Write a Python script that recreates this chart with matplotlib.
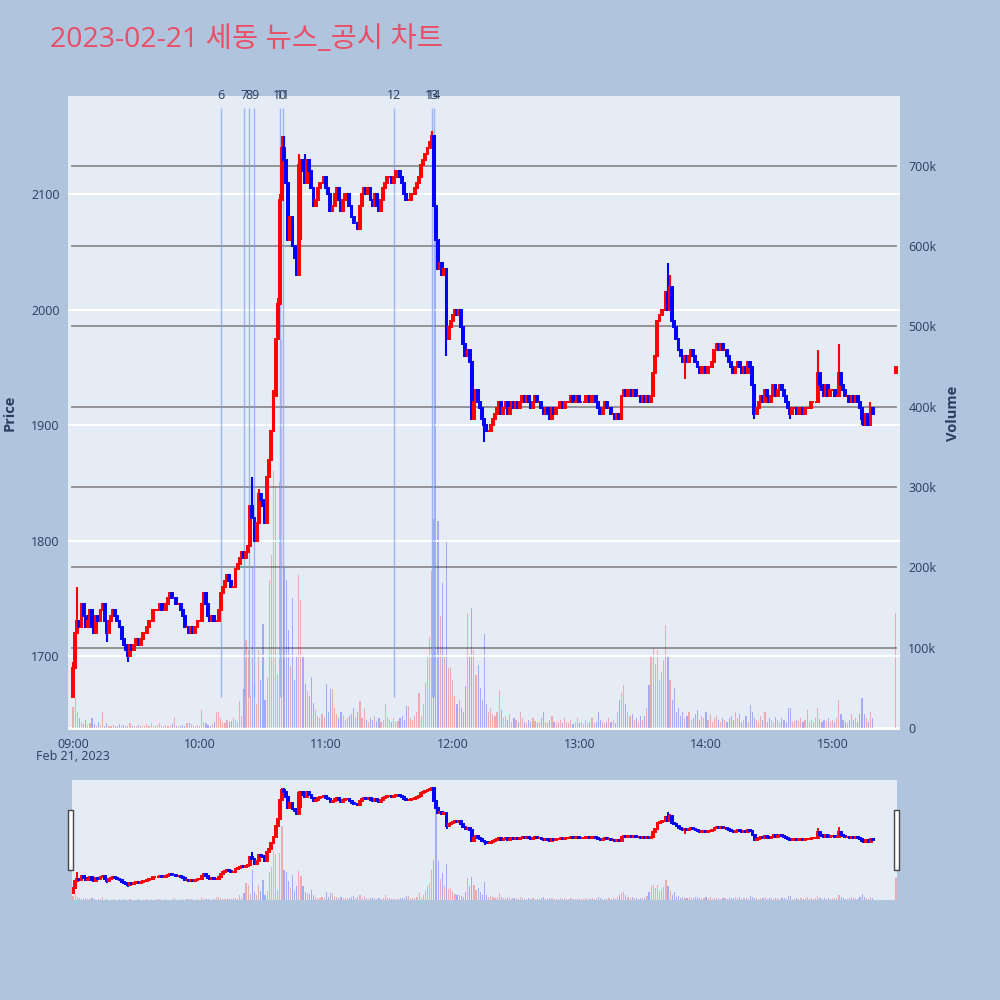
import numpy as np
import matplotlib
matplotlib.use("Agg")
import matplotlib.pyplot as plt
from matplotlib.patches import Rectangle

plt.rcParams['font.family'] = ['Open Sans', 'Noto Sans CJK KR', 'DejaVu Sans']

# 1분봉 종가 (09:00 ~ 15:19)
closes = [
    1690, 1720, 1730, 1725, 1745, 1735, 1725, 1730, 1740, 1725,
    1720, 1735, 1730, 1740, 1745, 1730, 1720, 1730, 1735, 1740,
    1735, 1730, 1725, 1715, 1710, 1705, 1700, 1710, 1705, 1710,
    1715, 1710, 1715, 1720, 1720, 1725, 1730, 1730, 1740, 1740,
    1740, 1745, 1740, 1740, 1745, 1750, 1755, 1750, 1750, 1745,
    1745, 1740, 1735, 1725, 1725, 1720, 1725, 1720, 1725, 1730,
    1730, 1745, 1755, 1745, 1735, 1730, 1735, 1730, 1730, 1740,
    1755, 1760, 1765, 1770, 1765, 1760, 1760, 1775, 1780, 1785,
    1790, 1785, 1790, 1795, 1830, 1820, 1800, 1815, 1840, 1835,
    1830, 1815, 1855, 1870, 1895, 1925, 1975, 2005, 2095, 2140,
    2130, 2110, 2060, 2080, 2055, 2045, 2030, 2125, 2130, 2120,
    2110, 2130, 2120, 2105, 2090, 2095, 2105, 2110, 2110, 2115,
    2105, 2100, 2085, 2090, 2100, 2105, 2095, 2085, 2095, 2100,
    2100, 2090, 2080, 2075, 2075, 2070, 2090, 2100, 2105, 2100,
    2105, 2095, 2090, 2100, 2090, 2085, 2095, 2105, 2110, 2115,
    2115, 2110, 2115, 2120, 2120, 2115, 2110, 2100, 2095, 2095,
    2100, 2100, 2105, 2110, 2115, 2125, 2130, 2135, 2140, 2145,
    2150, 2090, 2060, 2035, 2040, 2030, 2035, 1975, 1985, 1990,
    1995, 2000, 1995, 2000, 1985, 1970, 1960, 1965, 1955, 1905,
    1920, 1930, 1920, 1915, 1905, 1900, 1895, 1895, 1900, 1905,
    1910, 1915, 1920, 1910, 1915, 1920, 1910, 1915, 1920, 1915,
    1920, 1915, 1920, 1925, 1920, 1925, 1920, 1915, 1920, 1925,
    1920, 1920, 1915, 1910, 1915, 1910, 1905, 1915, 1910, 1915,
    1915, 1920, 1915, 1920, 1920, 1920, 1925, 1920, 1920, 1925,
    1920, 1920, 1920, 1925, 1925, 1920, 1925, 1925, 1920, 1915,
    1910, 1915, 1920, 1915, 1915, 1910, 1910, 1905, 1910, 1905,
    1925, 1930, 1925, 1930, 1930, 1925, 1930, 1925, 1925, 1920,
    1925, 1920, 1925, 1920, 1925, 1945, 1960, 1990, 1995, 2000,
    2000, 2015, 2000, 2020, 1990, 1985, 1975, 1965, 1960, 1955,
    1960, 1955, 1960, 1965, 1960, 1955, 1950, 1945, 1950, 1950,
    1945, 1950, 1950, 1955, 1965, 1970, 1965, 1970, 1965, 1965,
    1960, 1955, 1950, 1945, 1950, 1955, 1950, 1945, 1950, 1945,
    1955, 1950, 1935, 1910, 1915, 1920, 1925, 1920, 1930, 1925,
    1920, 1925, 1935, 1925, 1930, 1935, 1930, 1925, 1920, 1915,
    1910, 1915, 1915, 1910, 1915, 1915, 1910, 1915, 1915, 1915,
    1920, 1920, 1920, 1945, 1935, 1930, 1925, 1935, 1925, 1930,
    1930, 1925, 1925, 1945, 1935, 1930, 1925, 1925, 1920, 1925,
    1920, 1925, 1920, 1915, 1905, 1900, 1910, 1900, 1915, 1910,
]
first_open = 1665

# 꼬리 (분: 가격)
wick_high = {0: 1695, 2: 1760, 85: 1855, 88: 1845, 95: 1930, 97: 2010, 98: 2100,
             99: 2150, 100: 2150, 107: 2135, 110: 2135, 170: 2155, 282: 2040,
             283: 2030, 353: 1965, 363: 1970, 378: 1920}
wick_low = {16: 1712, 26: 1695, 106: 2030, 108: 2060, 177: 1960, 189: 1905,
            195: 1885, 290: 1940, 323: 1905, 340: 1905, 374: 1900, 377: 1900}

# 거래량 (천주)
volumes = [
    26, 37, 20, 12, 8, 5, 10, 4, 6, 12,
    5, 3, 8, 4, 20, 3, 6, 2, 3, 4,
    2, 3, 5, 2, 4, 3, 2, 6, 2, 3,
    2, 4, 2, 3, 2, 5, 3, 6, 2, 3,
    4, 6, 3, 2, 4, 3, 2, 5, 14, 3,
    2, 3, 4, 2, 6, 6, 5, 3, 2, 4,
    3, 22, 8, 6, 4, 3, 5, 8, 20, 20,
    12, 8, 6, 10, 8, 9, 12, 10, 8, 33,
    15, 48, 110, 97, 40, 200, 55, 30, 97, 60,
    130, 35, 62, 184, 216, 320, 300, 67, 306, 483,
    200, 184, 122, 77, 162, 60, 90, 190, 159, 90,
    55, 46, 40, 64, 31, 22, 15, 12, 18, 14,
    55, 20, 48, 48, 25, 18, 12, 20, 15, 10,
    12, 15, 18, 25, 14, 20, 34, 12, 25, 10,
    8, 12, 10, 15, 9, 12, 8, 10, 30, 14,
    10, 8, 12, 8, 9, 12, 15, 10, 28, 28,
    12, 10, 15, 20, 43, 15, 30, 56, 90, 113,
    195, 260, 630, 258, 140, 180, 90, 234, 75, 76,
    60, 40, 30, 35, 25, 20, 52, 143, 90, 150,
    97, 66, 78, 50, 35, 117, 30, 20, 25, 18,
    15, 20, 47, 22, 12, 15, 10, 18, 8, 12,
    10, 8, 20, 12, 8, 6, 10, 8, 12, 9,
    6, 8, 12, 20, 8, 6, 10, 15, 8, 6,
    8, 10, 6, 12, 8, 6, 10, 5, 8, 12,
    6, 8, 5, 10, 6, 8, 12, 6, 8, 20,
    10, 8, 6, 8, 12, 8, 10, 6, 20, 35,
    44, 54, 30, 20, 15, 18, 10, 12, 8, 15,
    10, 15, 25, 54, 91, 100, 80, 97, 60, 70,
    85, 128, 91, 60, 35, 50, 20, 25, 15, 20,
    12, 15, 20, 10, 12, 18, 22, 10, 15, 12,
    20, 10, 18, 8, 12, 15, 10, 8, 12, 10,
    8, 12, 15, 10, 20, 12, 18, 8, 10, 15,
    8, 29, 20, 12, 10, 8, 15, 10, 20, 8,
    12, 10, 8, 14, 10, 8, 12, 10, 8, 25,
    25, 7, 9, 10, 9, 12, 8, 10, 22, 8,
    10, 8, 12, 25, 11, 8, 10, 9, 12, 8,
    10, 8, 12, 35, 17, 10, 8, 6, 10, 17,
    10, 12, 8, 17, 37, 17, 12, 8, 20, 12,
]

# 15:30 동시호가
auction_min = 390
auction_open, auction_close, auction_vol = 1945, 1950, 143

# 뉴스/공시 번호와 시각(분)
news_ids = ['6', '7', '8', '9', '10', '11', '12', '13', '14']
news_min = [70, 81, 83.5, 86, 98, 99.5, 152, 170, 171]

hours = ['09:00', '10:00', '11:00', '12:00', '13:00', '14:00', '15:00']

# ---- 데이터 정리
mins = np.append(np.arange(len(closes)), auction_min)
c = np.array(closes + [auction_close], dtype=float)
o = np.concatenate([[first_open], closes[:-1], [auction_open]]).astype(float)
h = np.maximum(o, c)
l = np.minimum(o, c)
for k, v in wick_high.items():
    h[k] = max(h[k], v)
for k, v in wick_low.items():
    l[k] = min(l[k], v)
vol = np.array(volumes + [auction_vol], dtype=float) * 1000
up = c >= o
cols = np.where(up, '#ff0000', '#0000ff')

BG = '#b0c4de'
PLOT_BG = '#e5ecf6'
TXT = '#2a3f5f'

fig = plt.figure(figsize=(10, 10), dpi=100, facecolor=BG)


def draw(ax_v, ax_p, lw_body, lw_wick, vol_w):
    ax_v.bar(mins, vol, width=vol_w, color=cols, alpha=0.28, linewidth=0, zorder=2)
    ax_p.vlines(mins, l, h, colors=cols, linewidth=lw_wick, zorder=4)
    ax_p.bar(mins, c - o, bottom=o, width=0.9, color=cols, edgecolor=cols,
             linewidth=lw_body, zorder=5)


# ---- 메인 차트
ax_v = fig.add_axes([0.068, 0.27, 0.832, 0.634], facecolor=PLOT_BG)
ax_p = ax_v.twinx()
ax_p.set_zorder(ax_v.get_zorder() + 1)
ax_p.patch.set_visible(False)

ax_v.set_ylim(-2500, 787000)
ax_p.set_ylim(1636, 2185)
ax_v.set_xlim(-2.4, 392)

vticks = np.arange(0, 800000, 100000)
ax_v.set_yticks(vticks)
ax_v.set_yticklabels(['0'] + ['%dk' % (t // 1000) for t in vticks[1:]])
ax_v.yaxis.tick_right()
for t in vticks[1:]:
    ax_v.axhline(t, xmin=0.005, xmax=0.995, color='#8c8c8c', lw=1.3, zorder=1.5)
ax_v.axhline(0, color='white', lw=2, zorder=1)

pticks = [1700, 1800, 1900, 2000, 2100]
ax_p.set_yticks(pticks)
ax_p.yaxis.tick_left()
for t in pticks:
    ax_p.axhline(t, color='white', lw=1.5, zorder=1)

draw(ax_v, ax_p, 1.4, 1.5, 0.55)

# 뉴스 세로선
for nid, m in zip(news_ids, news_min):
    ax_p.vlines(m, 1665, 2175, colors='#7f9ff0', linewidth=1, alpha=0.7, zorder=3)
    ax_p.text(m, 2185, nid, ha='center', va='center', fontsize=9, color=TXT, zorder=6)

ax_v.set_xticks(np.arange(0, 361, 60))
ax_v.set_xticklabels(hours)
for ax in (ax_v, ax_p):
    ax.tick_params(length=0, labelsize=9, labelcolor=TXT, pad=6)
    for s in ax.spines.values():
        s.set_visible(False)
fig.text(0.073, 0.243, 'Feb 21, 2023', ha='center', va='center', fontsize=9, color=TXT)

ax_p.set_ylabel('Price', fontsize=10.5, fontweight='bold', color=TXT)
ax_p.yaxis.set_label_position('left')
ax_p.yaxis.set_label_coords(-0.062, 0.5)
ax_v.set_ylabel('Volume', fontsize=10.5, fontweight='bold', color=TXT)
ax_v.yaxis.set_label_position('right')
ax_v.yaxis.set_label_coords(1.055, 0.5)

fig.text(0.05, 0.96, '2023-02-21 세동 뉴스_공시 차트', fontsize=20.5, color='#ea4f67',
         ha='left', va='center')

# ---- 레인지 슬라이더
rs_v = fig.add_axes([0.072, 0.10, 0.825, 0.12], facecolor=PLOT_BG)
rs_p = rs_v.twinx()
rs_p.set_zorder(rs_v.get_zorder() + 1)
rs_p.patch.set_visible(False)
rs_v.set_xlim(-0.5, 390.5)
rs_v.set_ylim(0, 787000)
rs_p.set_ylim(1633, 2187)
draw(rs_v, rs_p, 1.4, 1.4, 0.55)
for ax in (rs_v, rs_p):
    ax.set_xticks([])
    ax.set_yticks([])
    for s in ax.spines.values():
        s.set_visible(False)

for hx in (0.068, 0.894):
    fig.patches.append(Rectangle((hx, 0.13), 0.005, 0.06, transform=fig.transFigure,
                                 facecolor='white', edgecolor='#444444', lw=1, zorder=10))

fig.savefig('out.png', dpi=100, facecolor=BG)
